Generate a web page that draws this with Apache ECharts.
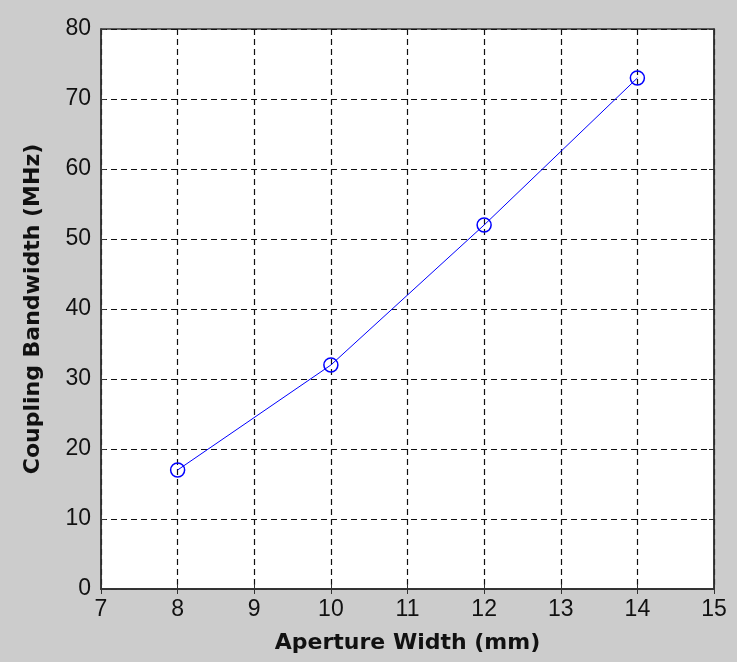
<!DOCTYPE html>
<html>
<head>
<meta charset="utf-8">
<script src="https://cdn.jsdelivr.net/npm/echarts@6/dist/echarts.min.js"></script>
<style>
  html, body { margin: 0; padding: 0; background: #cccccc; }
  #chart { width: 737px; height: 662px; }
</style>
</head>
<body>
<div id="chart"></div>
<script>
// Aperture width (mm) vs coupling bandwidth (MHz)
const apertureWidth = [8, 10, 12, 14];
const couplingBandwidth = [17, 32, 52, 73];
const xTicks = [7, 8, 9, 10, 11, 12, 13, 14, 15];
const yTicks = [0, 10, 20, 30, 40, 50, 60, 70, 80];

const chart = echarts.init(document.getElementById('chart'), null, { renderer: 'canvas' });

const tickFont = { fontFamily: 'Liberation Sans', fontSize: 23, color: '#111' };
const titleFont = { fontFamily: 'DejaVu Sans', fontWeight: 'bold', fontSize: 22, color: '#111' };
const gridDash = { color: '#111', width: 1.2, type: [6, 4] };
const boxLine = { show: true, lineStyle: { color: '#333', width: 1.5 } };
const innerTick = { show: true, inside: true, length: 5, lineStyle: { color: '#333' } };

const xRange = { type: 'value', min: xTicks[0], max: xTicks[xTicks.length - 1], interval: 1 };
const yRange = { type: 'value', min: yTicks[0], max: yTicks[yTicks.length - 1], interval: 10 };

chart.setOption({
  backgroundColor: '#cccccc',
  animation: false,
  grid: {
    left: 101, right: 23, top: 29, bottom: 73,
    show: true, backgroundColor: '#ffffff', borderColor: '#333', borderWidth: 1.5
  },
  xAxis: [
    Object.assign({}, xRange, {
      position: 'bottom',
      name: 'Aperture Width (mm)',
      nameLocation: 'middle', nameGap: 43,
      nameTextStyle: titleFont,
      axisLine: boxLine,
      axisTick: innerTick,
      axisLabel: Object.assign({ margin: 9 }, tickFont),
      splitLine: { show: true, lineStyle: gridDash }
    }),
    Object.assign({}, xRange, {
      position: 'top',
      axisLine: boxLine,
      axisTick: innerTick,
      axisLabel: { show: false },
      splitLine: { show: false }
    })
  ],
  yAxis: [
    Object.assign({}, yRange, {
      position: 'left',
      name: 'Coupling Bandwidth (MHz)',
      nameLocation: 'middle', nameGap: 57, nameRotate: 90,
      nameTextStyle: titleFont,
      axisLine: boxLine,
      axisTick: innerTick,
      axisLabel: Object.assign({ margin: 10 }, tickFont),
      splitLine: { show: true, lineStyle: gridDash }
    }),
    Object.assign({}, yRange, {
      position: 'right',
      axisLine: boxLine,
      axisTick: innerTick,
      axisLabel: { show: false },
      splitLine: { show: false }
    })
  ],
  series: [{
    type: 'line',
    xAxisIndex: 0,
    yAxisIndex: 0,
    data: apertureWidth.map((x, i) => [x, couplingBandwidth[i]]),
    symbol: 'circle',
    symbolSize: 14,
    showAllSymbol: true,
    lineStyle: { color: '#0000ff', width: 1 },
    itemStyle: { color: 'rgba(0,0,0,0)', borderColor: '#0000ff', borderWidth: 1.5 },
    emphasis: { disabled: true },
    z: 5
  }]
});
</script>
</body>
</html>
